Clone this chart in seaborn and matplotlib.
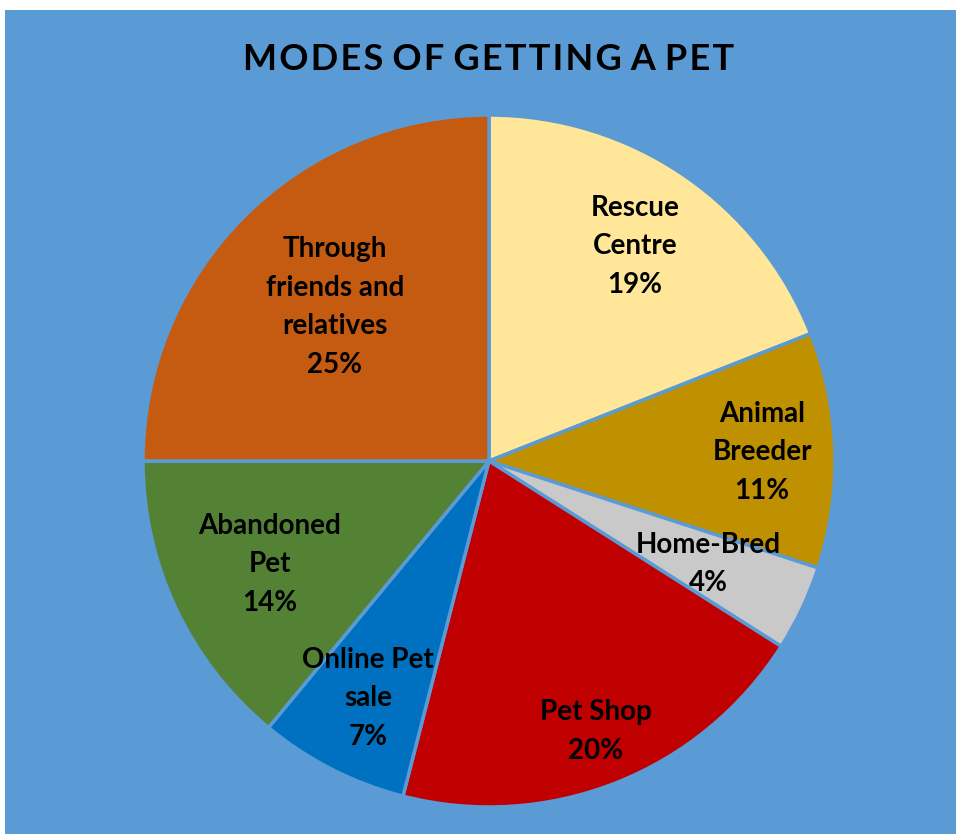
import numpy as np
import matplotlib
matplotlib.use("Agg")
import matplotlib.pyplot as plt
import seaborn as sns

# Survey shares of how people got their pet (percent)
categories = ["Rescue\nCentre", "Animal\nBreeder", "Home-Bred", "Pet Shop",
              "Online Pet\nsale", "Abandoned\nPet", "Through\nfriends and\nrelatives"]
shares = [19, 11, 4, 20, 7, 14, 25]
colors = ["#FFE699", "#BF9000", "#C9C9C9", "#C00000", "#0070C0", "#548235", "#C55A11"]
# radial placement of each label, as a fraction of the radius
label_radius = [0.75, 0.79, 0.70, 0.84, 0.77, 0.70, 0.63]
title = "MODES OF GETTING A PET"

sns.set_style("white")
plt.rcParams["font.family"] = ["Lato", "DejaVu Sans"]

W, H = 956, 834
fig = plt.figure(figsize=(W / 100, H / 100), dpi=100)
fig.patch.set_facecolor("white")

bg = "#5B9BD5"
panel = fig.add_axes([5 / W, 0, 1 - 5 / W, 1 - 10 / H])
panel.set_facecolor(bg)
panel.set_xticks([]); panel.set_yticks([])
for s in panel.spines.values():
    s.set_visible(False)

cx, cy, r = 489, 461, 346
ax = fig.add_axes([(cx - r) / W, (H - cy - r) / H, 2 * r / W, 2 * r / H])
ax.set_facecolor("none")
wedges, _ = ax.pie(shares, colors=colors, startangle=90, counterclock=False,
                   wedgeprops=dict(edgecolor=bg, linewidth=2.5))
ax.set_xlim(-1, 1); ax.set_ylim(-1, 1)
ax.set_aspect("equal")
ax.axis("off")

for w, name, val, rr in zip(wedges, categories, shares, label_radius):
    mid = np.deg2rad((w.theta1 + w.theta2) / 2)
    ax.text(rr * np.cos(mid), rr * np.sin(mid), f"{name}\n{val}%",
            ha="center", va="center", fontsize=20, fontweight="bold",
            color="black", linespacing=1.6)

# letter-spaced title
spaced = "\u200a".join(title).replace("\u200a \u200a", "\u2009\u2009")
fig.text(489 / W, 1 - 59 / H, spaced,
         ha="center", va="center", fontsize=26, fontweight="bold", color="black")

fig.savefig("out.png", dpi=100, facecolor=fig.get_facecolor())
